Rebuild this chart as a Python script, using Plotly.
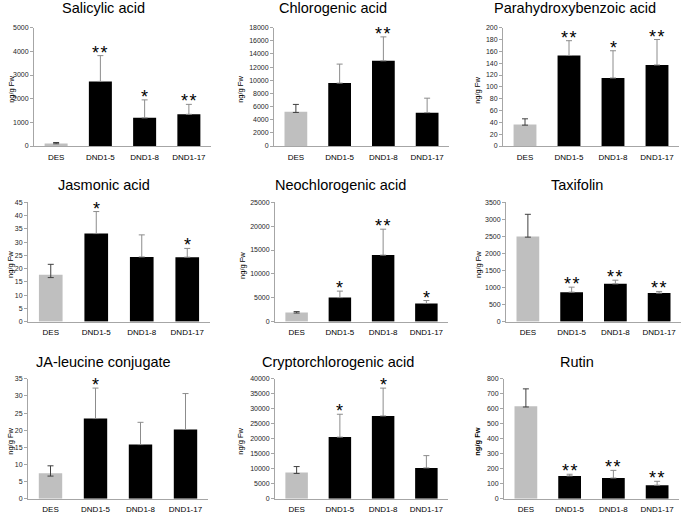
import plotly.graph_objects as go

# ---------------- data ----------------
categories = ["DES", "DND1-5", "DND1-8", "DND1-17"]

salicylic_mean = [110, 2730, 1190, 1340]
salicylic_err_up = [40, 1090, 760, 420]
salicylic_err_down = [15, 0, 0, 0]
salicylic_stars = ["", "**", "*", "**"]

chlorogenic_mean = [5230, 9570, 12960, 5080]
chlorogenic_err_up = [1100, 2890, 3640, 2200]
chlorogenic_err_down = [120, 0, 0, 0]
chlorogenic_stars = ["", "", "**", ""]

parahydroxy_mean = [36.5, 153, 115, 137]
parahydroxy_err_up = [9.5, 25, 46, 43]
parahydroxy_err_down = [1.2, 0, 0, 0]
parahydroxy_stars = ["", "**", "*", "**"]

jasmonic_mean = [17.7, 33.2, 24.4, 24.3]
jasmonic_err_up = [3.9, 8.3, 8.3, 3.3]
jasmonic_err_down = [1.1, 0, 0, 0]
jasmonic_stars = ["", "*", "", "*"]

neochlorogenic_mean = [1900, 5030, 13930, 3800]
neochlorogenic_err_up = [200, 1360, 5430, 620]
neochlorogenic_err_down = [100, 0, 0, 0]
neochlorogenic_stars = ["", "*", "**", "*"]

taxifolin_mean = [2497, 865, 1108, 836]
taxifolin_err_up = [650, 146, 107, 49]
taxifolin_err_down = [20, 0, 0, 0]
taxifolin_stars = ["", "**", "**", "**"]

jaleucine_mean = [7.4, 23.4, 15.8, 20.2]
jaleucine_err_up = [2.2, 8.9, 6.5, 10.5]
jaleucine_err_down = [0.8, 0, 0, 0]
jaleucine_stars = ["", "*", "", ""]

crypto_mean = [8730, 20550, 27620, 10280]
crypto_err_up = [1990, 7630, 9280, 4090]
crypto_err_down = [300, 0, 0, 0]
crypto_stars = ["", "*", "*", ""]

rutin_mean = [617, 152, 138, 90]
rutin_err_up = [116, 11, 51, 26]
rutin_err_down = [5, 0, 0, 0]
rutin_stars = ["", "**", "**", "**"]

panel_titles = ["Salicylic acid", "Chlorogenic acid", "Parahydroxybenzoic acid",
                "Jasmonic acid", "Neochlorogenic acid", "Taxifolin",
                "JA-leucine conjugate", "Cryptorchlorogenic acid", "Rutin"]
y_max = [5000, 18000, 200, 45, 25000, 3500, 35, 40000, 800]
y_step = [1000, 2000, 20, 5, 5000, 500, 5, 5000, 100]
y_label = "ng/g Fw"

panels = [
    (salicylic_mean, salicylic_err_up, salicylic_err_down, salicylic_stars),
    (chlorogenic_mean, chlorogenic_err_up, chlorogenic_err_down, chlorogenic_stars),
    (parahydroxy_mean, parahydroxy_err_up, parahydroxy_err_down, parahydroxy_stars),
    (jasmonic_mean, jasmonic_err_up, jasmonic_err_down, jasmonic_stars),
    (neochlorogenic_mean, neochlorogenic_err_up, neochlorogenic_err_down, neochlorogenic_stars),
    (taxifolin_mean, taxifolin_err_up, taxifolin_err_down, taxifolin_stars),
    (jaleucine_mean, jaleucine_err_up, jaleucine_err_down, jaleucine_stars),
    (crypto_mean, crypto_err_up, crypto_err_down, crypto_stars),
    (rutin_mean, rutin_err_up, rutin_err_down, rutin_stars),
]

# ---------------- layout (pixels) ----------------
W, H = 685, 515
col_x = [[(34, 211), (274, 449), (503, 679)],
         [(28, 210), (275, 448), (506, 681)],
         [(28, 208), (275, 448), (504, 679)]]
row_y = [(24, 144), (201, 322), (380, 501.5)]
title_x = [[103, 333, 575], [104, 340, 577], [103, 338, 577]]
title_y = [4, 183, 363]
ylab_x = [[12, 241, 478], [11, 243, 479], [11, 241, 478]]

FONT = "Arial, Liberation Sans, sans-serif"
STAR_SEP = "\u200a"
fig = go.Figure()
annotations = []
layout = {}

for i, (mean, up, down, stars) in enumerate(panels):
    r, c = divmod(i, 3)
    ax = "" if i == 0 else str(i + 1)
    xref, yref = "x" + ax, "y" + ax
    x0, x1 = col_x[r][c]
    yt, yb = row_y[r]
    fig.add_trace(go.Bar(
        x=categories[:1], y=mean[:1], width=0.52,
        marker=dict(color="#bfbfbf", line=dict(width=0)),
        error_y=dict(type="data", symmetric=False, array=up[:1], arrayminus=down[:1],
                     color="#404040", thickness=1, width=3),
        xaxis=xref, yaxis=yref, showlegend=False, hoverinfo="skip"))
    fig.add_trace(go.Bar(
        x=categories[1:], y=mean[1:], width=0.52,
        marker=dict(color="#000000", line=dict(width=0)),
        error_y=dict(type="data", symmetric=False, array=up[1:], arrayminus=down[1:],
                     color="#8c8c8c", thickness=1, width=3),
        xaxis=xref, yaxis=yref, showlegend=False, hoverinfo="skip"))
    layout["xaxis" + ax] = dict(
        domain=[x0 / W, x1 / W], anchor=yref, type="category",
        categoryorder="array", categoryarray=categories, range=[-0.5, 3.5],
        showline=True, linecolor="#a6a6a6", linewidth=1, ticks="",
        showgrid=False, zeroline=False, ticklabelstandoff=3,
        tickfont=dict(family=FONT, size=8, color="#000000"), fixedrange=True)
    layout["yaxis" + ax] = dict(
        domain=[1 - yb / H, 1 - yt / H], anchor=xref,
        range=[0, y_max[i]], dtick=y_step[i], tick0=0, tickformat="d",
        showline=True, linecolor="#a6a6a6", linewidth=1,
        ticks="outside", ticklen=3, tickcolor="#a6a6a6",
        showgrid=False, zeroline=False,
        tickfont=dict(family=FONT, size=7, color="#262626"), fixedrange=True)
    annotations.append(dict(
        text=panel_titles[i], xref="paper", yref="paper",
        x=title_x[r][c] / W, y=1 - title_y[r] / H, xanchor="center", yanchor="middle",
        showarrow=False, font=dict(family=FONT, size=14.5, color="#000000")))
    annotations.append(dict(
        text=("<b>%s</b>" % y_label) if i == 8 else y_label,
        xref="paper", yref="paper", textangle=-90,
        x=ylab_x[r][c] / W, y=1 - ((yt + yb) / 2 + 3) / H,
        xanchor="center", yanchor="middle", showarrow=False,
        font=dict(family=FONT, size=7.5, color="#000000")))
    for k, s in enumerate(stars):
        if s:
            annotations.append(dict(
                text=STAR_SEP.join(s), xref=xref, yref=yref, x=categories[k],
                y=mean[k] + up[k], xanchor="center", yanchor="bottom", yshift=-9,
                showarrow=False, font=dict(family=FONT, size=18, color="#000000")))

fig.update_layout(
    width=W, height=H, margin=dict(l=0, r=0, t=0, b=0),
    paper_bgcolor="white", plot_bgcolor="white",
    barmode="overlay", showlegend=False, annotations=annotations, **layout)

fig.write_html(
    "out.html",
    config={"displayModeBar": False, "staticPlot": True},
    post_script="document.body.style.margin='0';document.body.style.overflow='hidden';")
